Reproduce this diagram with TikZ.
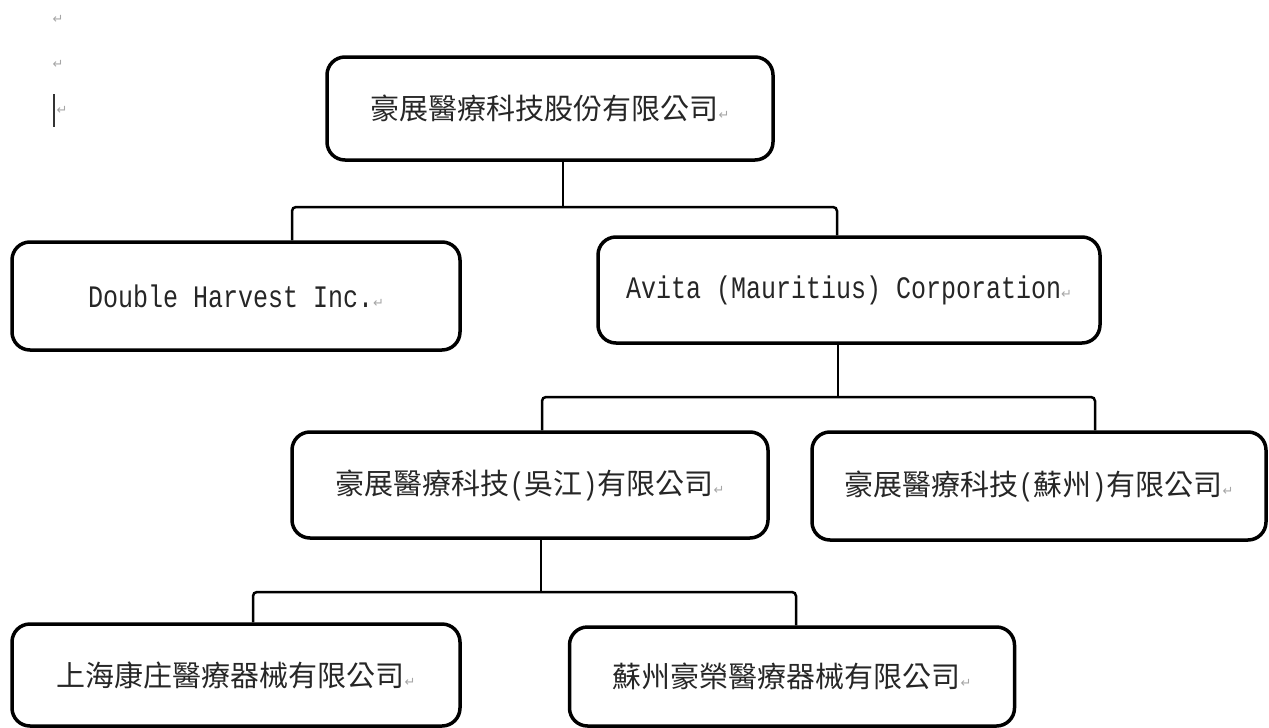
\documentclass[tikz,border=0pt]{standalone}
\usepackage{fontspec}
\setmainfont{Liberation Mono}
\newfontfamily\cjk{Noto Sans CJK TC}
\newfontfamily\symfont{DejaVu Sans}
\newcommand\pmark{{\symfont\fontsize{13}{13}\selectfont\textcolor{gray!70}{↵}}}
\newcommand\zh[1]{{\cjk\fontsize{29}{32}\selectfont #1}}
\newcommand\lat[1]{\scalebox{1}[1.25]{#1}}
\tikzset{
  orgbox/.style={draw=black, line width=3.5pt, rounded corners=18pt, inner sep=0pt,
    font=\fontsize{25}{28}\selectfont, text=black!85},
  conn/.style={line width=2.5pt, rounded corners=4pt},
}
\begin{document}
\begin{tikzpicture}[x=1pt,y=-1pt]
\useasboundingbox (0,0) rectangle (1269,728);
% word formatting marks at top left
\node[inner sep=0pt] (pm1) at (58,19) {\pmark};
\node[inner sep=0pt] (pm2) at (58,64) {\pmark};
\node[inner sep=0pt] (pm3) at (62,110) {\pmark};
\draw[line width=2.5pt, black!80] (54,94) -- (54,127);
% boxes
\node[orgbox, minimum width=446pt, minimum height=103pt] (top) at (550,108.5)
  {\zh{豪展醫療科技股份有限公司}\pmark};
\node[orgbox, minimum width=448pt, minimum height=108pt] (dh) at (236,296)
  {\lat{Double Harvest Inc.}\pmark};
\node[orgbox, minimum width=502pt, minimum height=106pt] (av) at (849,290)
  {\lat{Avita (Mauritius) Corporation}\pmark};
\node[orgbox, minimum width=476pt, minimum height=106pt] (wj) at (530,485)
  {\zh{豪展醫療科技}\lat{(}\zh{吳江}\lat{)}\zh{有限公司}\pmark};
\node[orgbox, minimum width=454pt, minimum height=108pt] (sz) at (1039,486)
  {\zh{豪展醫療科技}\lat{(}\zh{蘇州}\lat{)}\zh{有限公司}\pmark};
\node[orgbox, minimum width=448pt, minimum height=102pt] (sh) at (236,675)
  {\zh{上海康庄醫療器械有限公司}\pmark};
\node[orgbox, minimum width=445pt, minimum height=99pt] (hr) at (792,676.5)
  {\zh{蘇州豪榮醫療器械有限公司}\pmark};
% connectors level 1
\coordinate (t1) at (563,207);
\coordinate (l1) at (292,207);
\coordinate (r1) at (837,207);
\draw[conn] (top.south -| t1) -- (t1);
\draw[conn] (l1 |- dh.north) -- (l1) -- (r1) -- (r1 |- av.north);
% level 2
\coordinate (t2) at (838,397);
\coordinate (l2) at (542,397);
\coordinate (r2) at (1095,397);
\draw[conn] (av.south -| t2) -- (t2);
\draw[conn] (l2 |- wj.north) -- (l2) -- (r2) -- (r2 |- sz.north);
% level 3
\coordinate (t3) at (541,592);
\coordinate (l3) at (253,592);
\coordinate (r3) at (796,592);
\draw[conn] (wj.south -| t3) -- (t3);
\draw[conn] (l3 |- sh.north) -- (l3) -- (r3) -- (r3 |- hr.north);
\end{tikzpicture}
\end{document}
